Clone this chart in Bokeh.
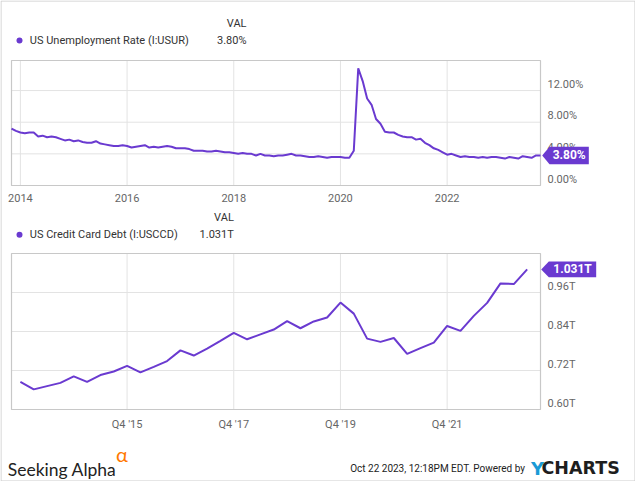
from bokeh.plotting import figure
from bokeh.models import Label, PolyAnnotation, FixedTicker, Range1d, ColumnDataSource, LinearAxis
from bokeh.embed import file_html
from bokeh.resources import INLINE

# ---------------- data ----------------
unemp_name = "US Unemployment Rate (I:USUR)"
unemp_start_year, unemp_start_month = 2013, 10   # Oct 2013, monthly
unemp_values = [
    7.2, 6.9, 6.7,
    6.6, 6.7, 6.7, 6.2, 6.3, 6.1, 6.2, 6.1, 5.9, 5.7, 5.8, 5.6,
    5.7, 5.5, 5.4, 5.4, 5.6, 5.3, 5.2, 5.1, 5.0, 5.0, 5.1, 5.0,
    4.8, 4.9, 5.0, 5.1, 4.8, 4.9, 4.8, 4.9, 5.0, 4.9, 4.7, 4.7,
    4.7, 4.6, 4.4, 4.4, 4.4, 4.3, 4.3, 4.4, 4.3, 4.2, 4.2, 4.1,
    4.0, 4.1, 4.0, 4.0, 3.8, 4.0, 3.8, 3.8, 3.7, 3.8, 3.8, 3.9,
    4.0, 3.8, 3.8, 3.7, 3.6, 3.6, 3.7, 3.6, 3.5, 3.6, 3.6, 3.6,
    3.5, 3.5, 4.4, 14.8, 13.2, 11.0, 10.2, 8.4, 7.8, 6.8, 6.7, 6.7,
    6.4, 6.2, 6.1, 6.1, 5.8, 5.9, 5.4, 5.1, 4.7, 4.5, 4.2, 3.9,
    4.0, 3.8, 3.6, 3.7, 3.6, 3.6, 3.5, 3.6, 3.5, 3.6, 3.6, 3.5,
    3.4, 3.6, 3.5, 3.4, 3.7, 3.6, 3.5, 3.8, 3.8,
]
unemp_last_label = "3.80%"

debt_name = "US Credit Card Debt (I:USCCD)"
debt_start_year, debt_start_quarter = 2013, 4     # Q4 2013, quarterly
debt_values = [
    0.685, 0.662, 0.672, 0.682, 0.702, 0.685, 0.706, 0.717, 0.734, 0.714,
    0.731, 0.749, 0.782, 0.766, 0.787, 0.811, 0.836, 0.816, 0.831, 0.846,
    0.872, 0.850, 0.871, 0.883, 0.929, 0.895, 0.818, 0.808, 0.820, 0.771,
    0.789, 0.806, 0.857, 0.842, 0.888, 0.928, 0.988, 0.986, 1.031,
]
debt_last_label = "1.031T"

top_xticks = [2014, 2016, 2018, 2020, 2022]
top_xtick_labels = ["2014", "2016", "2018", "2020", "2022"]
bottom_xticks = [2016, 2018, 2020, 2022]
bottom_xtick_labels = ["Q4 '15", "Q4 '17", "Q4 '19", "Q4 '21"]
top_yticks = [0, 4, 8, 12]
top_ytick_labels = ["0.00%", "4.00%", "8.00%", "12.00%"]
bottom_yticks = [0.60, 0.72, 0.84, 0.96]
bottom_ytick_labels = ["0.60T", "0.72T", "0.84T", "0.96T"]

footer_date = "Oct 22 2023, 12:18PM EDT.  Powered by"

# ---------------- style / layout ----------------
PURPLE = "#6a3ad0"
GRID = "#e3e3e3"
FRAME = "#c8c8c8"
TXT = "#333333"
AXT = "#666666"
FONT = "Roboto"

W, H = 635, 481
FL, FR = 11, 540           # chart frames left / right (page px)
T1_TOP, T1_BOT = 60, 185   # top chart frame (page px)
T2_TOP, T2_BOT = 253, 409  # bottom chart frame (page px)
LBL_LIFT = 6.5             # y tick labels sit above their grid lines

# x positions (period-end, decimal years)
ux = [unemp_start_year + (unemp_start_month + i) / 12 for i in range(len(unemp_values))]
dx = [debt_start_year + (debt_start_quarter * 3 + 3 * i) / 12 for i in range(len(debt_values))]
x0, x1 = ux[0], ux[-1]
ppx = (FR - FL) / (x1 - x0)

y1_lo, y1_hi = 0.0, 15.8
y2_lo, y2_hi = 0.60, 1.08
ppy1 = (T1_BOT - T1_TOP) / (y1_hi - y1_lo)
ppy2 = (T2_BOT - T2_TOP) / (y2_hi - y2_lo)


def XD(px):
    return x0 + (px - FL) / ppx


def Y1(py):
    return y1_hi - (py - T1_TOP) / ppy1


def Y2(py):
    return y2_hi - (py - T2_TOP) / ppy2


# one canvas; the default ranges are page pixels (y downwards)
p = figure(width=W, height=H, x_range=Range1d(0, W), y_range=Range1d(H, 0),
           x_axis_location=None, y_axis_location=None, output_backend="svg",
           toolbar_location=None, min_border=0)
p.grid.visible = False
p.outline_line_color = None
p.background_fill_color = "white"
p.border_fill_color = "white"
p.extra_x_ranges = {"yr": Range1d(XD(0), XD(W))}
d1 = LBL_LIFT / ppy1
d2 = LBL_LIFT / ppy2
p.extra_y_ranges = {
    "top": Range1d(Y1(H), Y1(0)),
    "top_lbl": Range1d(Y1(H) - d1, Y1(0) - d1),
    "bot": Range1d(Y2(H), Y2(0)),
    "bot_lbl": Range1d(Y2(H) - d2, Y2(0) - d2),
}

# outer light border of the whole image
p.quad(left=[0.5], right=[W - 0.5], top=[0.5], bottom=[H - 0.5],
       fill_color=None, line_color="#cccccc", line_width=1)


def chart(xs, ys, xticks, xlabels, yticks, ylabels, ylo, yhi, yname, last_label,
          frame_top, ppy, half_h, tip_dx, box_l, box_r):
    n, m = len(xticks), len(yticks)
    kw = dict(x_range_name="yr", y_range_name=yname)
    # grid lines
    p.segment(x0=xticks, y0=[ylo] * n, x1=xticks, y1=[yhi] * n, line_color=GRID, line_width=1, **kw)
    p.segment(x0=[x0] * m, y0=yticks, x1=[x1] * m, y1=yticks, line_color=GRID, line_width=1, **kw)
    # frame
    p.quad(left=[x0], right=[x1], bottom=[ylo], top=[yhi], fill_color=None,
           line_color=FRAME, line_width=1.2, **kw)
    # series
    src = ColumnDataSource(dict(x=xs, y=ys))
    p.line("x", "y", source=src, line_color=PURPLE, line_width=2, **kw)

    # x axis at the frame bottom
    ax = LinearAxis(x_range_name="yr", y_range_name=yname, fixed_location=ylo,
                    ticker=FixedTicker(ticks=xticks),
                    major_label_overrides=dict(zip(xticks, xlabels)))
    # y axis at the frame right (labels lifted above their grid lines)
    ay = LinearAxis(x_range_name="yr", y_range_name=yname + "_lbl", fixed_location=x1,
                    ticker=FixedTicker(ticks=yticks),
                    major_label_overrides=dict(zip(yticks, ylabels)))
    for a in (ax, ay):
        a.axis_line_color = None
        a.major_tick_line_color = None
        a.minor_tick_line_color = None
        a.major_tick_out = 0
        a.major_tick_in = 0
        a.minor_tick_out = 0
        a.major_label_text_font = FONT
        a.major_label_text_font_size = "11px"
        a.major_label_text_color = AXT
    ax.major_label_standoff = 8
    ay.major_label_standoff = 7
    p.add_layout(ax, "below")
    p.add_layout(ay, "right")

    # value call-out at the right edge (page pixel coordinates from the last value)
    vy = frame_top + (yhi - ys[-1]) * ppy
    cx = [FR + tip_dx, FR + box_l, FR + box_r, FR + box_r, FR + box_l]
    cy = [vy, vy - half_h, vy - half_h, vy + half_h, vy + half_h]
    p.add_layout(PolyAnnotation(xs=cx, ys=cy, fill_color=PURPLE, fill_alpha=1, line_color=None))
    p.add_layout(Label(x=FR + (box_l + box_r) / 2, y=vy - 0.3, text=last_label, text_font=FONT,
                       text_font_size="12px", text_font_style="bold", text_color="white",
                       text_align="center", text_baseline="middle"))


def text(x, y, s, size="11px", color=TXT, align="left", baseline="middle", style="normal", font=FONT):
    p.add_layout(Label(x=x, y=y, text=s, text_font=font, text_font_size=size, text_color=color,
                       text_align=align, text_baseline=baseline, text_font_style=style))


chart(ux, unemp_values, top_xticks, top_xtick_labels, top_yticks, top_ytick_labels,
      y1_lo, y1_hi, "top", unemp_last_label, T1_TOP, ppy1, 8.8, 1.7, 9.0, 48.3)
chart(dx, debt_values, bottom_xticks, bottom_xtick_labels, bottom_yticks, bottom_ytick_labels,
      y2_lo, y2_hi, "bot", debt_last_label, T2_TOP, ppy2, 7.9, 0.7, 8.3, 55.7)

# legends (page pixel positions)
p.scatter(x=[19, 19], y=[40, 234.3], size=6, marker="circle", fill_color=PURPLE, line_color=None)
text(246, 22.7, "VAL", align="right")
text(29.3, 40, unemp_name)
text(246, 40, unemp_last_label, align="right")
text(233.3, 217.3, "VAL", align="right")
text(29.3, 234.3, debt_name)
text(233.3, 234.3, debt_last_label, align="right")

# footer
text(7.3, 469, "Seeking Alpha", size="17.5px", color="#222222", baseline="alphabetic", font="Lato")
text(121.5, 453, "\u03b1", size="20px", color="#ff7900", align="center", font="Lato")
text(527, 468.3, footer_date, size="10px", color="#222222", align="right")
text(530.5, 467.5, "Y", size="18px", color="#1a9ad6", style="bold", font="DejaVu Sans")
text(541, 467.5, "CHARTS", size="17.5px", color="#1e1e1e", style="bold", font="DejaVu Sans")

open("out.html", "w").write(file_html(p, INLINE))
